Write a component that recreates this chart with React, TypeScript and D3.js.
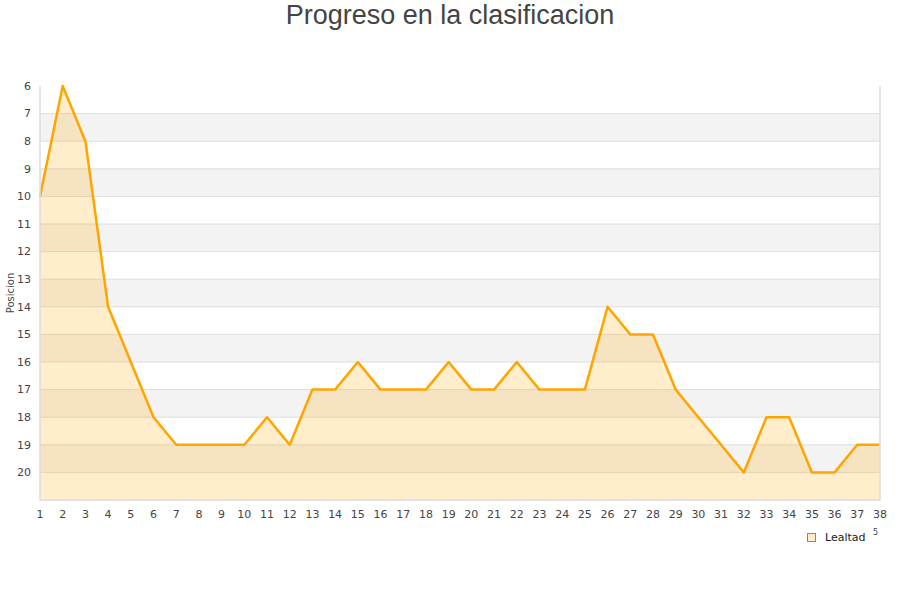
import React, { useEffect, useRef } from 'react';
import * as d3 from 'd3';

const jornadas = d3.range(1, 39);
const posiciones = [10, 6, 8, 14, 16, 18, 19, 19, 19, 19, 18, 19, 17, 17, 16, 17, 17, 17, 16, 17, 17, 16, 17, 17, 17, 14, 15, 15, 17, 18, 19, 20, 18, 18, 20, 20, 19, 19];
const yTicks = [6, 7, 8, 9, 10, 11, 12, 13, 14, 15, 16, 17, 18, 19, 20];

const App: React.FC = () => {
  const ref = useRef<SVGSVGElement | null>(null);

  useEffect(() => {
    if (!ref.current) return;
    const svg = d3.select(ref.current);
    svg.selectAll('*').remove();

    const left = 40, right = 880, top = 86, bottom = 500;
    const font = 'DejaVu Sans, sans-serif';

    const x = d3.scaleLinear().domain([1, 38]).range([left, right]);
    const y = d3.scaleLinear().domain([6, 21]).range([top, bottom]);

    // alternating bands
    const bands = d3.range(7, 21, 2);
    svg.append('g')
      .selectAll('rect')
      .data(bands)
      .enter().append('rect')
      .attr('x', left)
      .attr('width', right - left)
      .attr('y', d => y(d))
      .attr('height', d => y(d + 1) - y(d))
      .attr('fill', '#f3f3f3');

    // gridlines
    svg.append('g')
      .selectAll('line')
      .data(d3.range(7, 21))
      .enter().append('line')
      .attr('x1', left)
      .attr('x2', right)
      .attr('y1', d => y(d))
      .attr('y2', d => y(d))
      .attr('stroke', '#dddddd')
      .attr('stroke-width', 1);

    const pts = jornadas.map((j, i) => ({ j, p: posiciones[i] }));

    const area = d3.area<{ j: number; p: number }>()
      .x(d => x(d.j))
      .y0(y(21))
      .y1(d => y(d.p));

    svg.append('path')
      .attr('d', area(pts) || '')
      .attr('fill', '#ffa500')
      .attr('fill-opacity', 0.2);

    const line = d3.line<{ j: number; p: number }>()
      .x(d => x(d.j))
      .y(d => y(d.p));

    svg.append('path')
      .attr('d', line(pts) || '')
      .attr('fill', 'none')
      .attr('stroke', '#ffa500')
      .attr('stroke-width', 2.5)
      .attr('stroke-linejoin', 'round');

    // frame
    svg.append('path')
      .attr('d', `M${left},${top}V${bottom}H${right}V${top}`)
      .attr('fill', 'none')
      .attr('stroke', '#dddddd')
      .attr('stroke-width', 1.5);

    // y tick labels
    svg.append('g')
      .selectAll('text')
      .data(yTicks)
      .enter().append('text')
      .attr('x', 31)
      .attr('y', d => y(d))
      .attr('dy', '0.35em')
      .attr('text-anchor', 'end')
      .attr('font-family', font)
      .attr('font-size', 11)
      .attr('fill', '#444')
      .text(d => d);

    // x tick labels
    svg.append('g')
      .selectAll('text')
      .data(jornadas)
      .enter().append('text')
      .attr('x', d => x(d))
      .attr('y', 518)
      .attr('text-anchor', 'middle')
      .attr('font-family', font)
      .attr('font-size', 11)
      .attr('fill', '#444')
      .text(d => d);

    svg.append('text')
      .attr('transform', 'translate(14,293) rotate(-90)')
      .attr('text-anchor', 'middle')
      .attr('font-family', font)
      .attr('font-size', 10)
      .attr('fill', '#444')
      .text('Posicion');

    svg.append('text')
      .attr('x', 450)
      .attr('y', 24)
      .attr('text-anchor', 'middle')
      .attr('font-family', 'Liberation Sans, Arial, sans-serif')
      .attr('font-size', 27)
      .attr('fill', '#444')
      .text('Progreso en la clasificacion');

    // legend
    svg.append('rect')
      .attr('x', 807.5)
      .attr('y', 533.5)
      .attr('width', 8)
      .attr('height', 8)
      .attr('fill', '#ffecc8')
      .attr('stroke', '#888')
      .attr('stroke-width', 1);

    svg.append('text')
      .attr('x', 825)
      .attr('y', 541)
      .attr('font-family', font)
      .attr('font-size', 11)
      .attr('fill', '#222')
      .text('Lealtad');

    svg.append('text')
      .attr('x', 873)
      .attr('y', 535)
      .attr('font-family', font)
      .attr('font-size', 8)
      .attr('fill', '#444')
      .text('5');
  }, []);

  return <svg ref={ref} width={900} height={600} style={{ position: 'absolute', left: 0, top: 0 }} />;
};

export default App;
